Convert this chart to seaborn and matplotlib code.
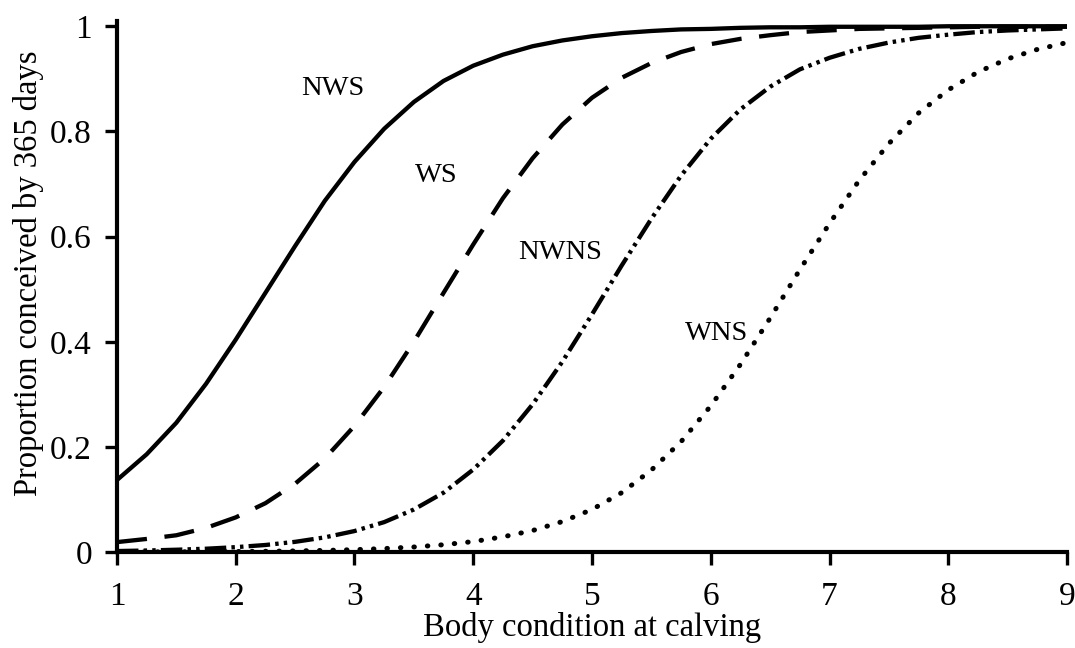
import numpy as np
import pandas as pd
import matplotlib
matplotlib.use("Agg")
import matplotlib.pyplot as plt
import seaborn as sns

# --- Data ---
body_condition = [1.0, 1.25, 1.5, 1.75, 2.0, 2.25, 2.5, 2.75, 3.0, 3.25, 3.5,
                  3.75, 4.0, 4.25, 4.5, 4.75, 5.0, 5.25, 5.5, 5.75, 6.0, 6.25,
                  6.5, 6.75, 7.0, 7.25, 7.5, 7.75, 8.0, 8.25, 8.5, 8.75, 9.0]

nws = [0.137, 0.186, 0.246, 0.320, 0.404, 0.493, 0.582, 0.668, 0.742, 0.805, 0.856,
       0.896, 0.925, 0.946, 0.962, 0.973, 0.981, 0.987, 0.991, 0.994, 0.995, 0.997,
       0.998, 0.998, 0.999, 0.999, 0.999, 0.999, 1.0, 1.0, 1.0, 1.0, 1.0]

ws = [0.019, 0.025, 0.032, 0.046, 0.066, 0.093, 0.130, 0.178, 0.240, 0.314, 0.400,
      0.493, 0.585, 0.673, 0.749, 0.813, 0.864, 0.902, 0.930, 0.951, 0.966, 0.976,
      0.983, 0.989, 0.992, 0.995, 0.996, 0.997, 0.998, 0.999, 0.999, 0.999, 0.999]

nwns = [0.002, 0.003, 0.0045, 0.0064, 0.0094, 0.0135, 0.0195, 0.028, 0.040, 0.057, 0.081,
        0.113, 0.157, 0.212, 0.281, 0.362, 0.452, 0.545, 0.634, 0.716, 0.786, 0.842,
        0.885, 0.918, 0.940, 0.957, 0.969, 0.978, 0.984, 0.989, 0.992, 0.994, 0.996]

wns = [0.0002, 0.0004, 0.0005, 0.0007, 0.0011, 0.0015, 0.0022, 0.0032, 0.0046, 0.0067, 0.0097,
       0.014, 0.020, 0.029, 0.041, 0.058, 0.081, 0.113, 0.156, 0.210, 0.278, 0.357,
       0.445, 0.537, 0.625, 0.707, 0.777, 0.835, 0.879, 0.913, 0.938, 0.956, 0.969]

groups = ["NWS", "WS", "NWNS", "WNS"]
label_x = [2.82, 3.69, 4.73, 6.05]
label_y = [0.882, 0.717, 0.570, 0.415]
y_ticks = [0, 0.2, 0.4, 0.6, 0.8, 1]
y_tick_labels = ["0", "0.2", "0.4", "0.6", "0.8", "1"]
x_ticks = [1, 2, 3, 4, 5, 6, 7, 8, 9]

# long-form table
df = pd.concat([
    pd.DataFrame({"condition": body_condition, "proportion": vals, "group": g})
    for g, vals in zip(groups, [nws, ws, nwns, wns])
], ignore_index=True)

# --- Styling ---
sns.set_style("ticks")
plt.rcParams["font.family"] = ["Liberation Serif", "DejaVu Serif"]
plt.rcParams["text.color"] = "black"
plt.rcParams["xtick.color"] = "black"
plt.rcParams["ytick.color"] = "black"
plt.rcParams["axes.labelcolor"] = "black"

line_styles = {
    "NWS": dict(linestyle="-", linewidth=3.1),
    "WS": dict(linestyle=(0, (7, 4.1)), dash_capstyle="butt", linewidth=3.1),
    "NWNS": dict(linestyle=(0, (5, 1.2, 0.8, 1.2, 0.8, 1.2)), dash_capstyle="butt", linewidth=3.1),
    "WNS": dict(linestyle=(0, (0.1, 2.6)), dash_capstyle="round", linewidth=3.6),
}

fig = plt.figure(figsize=(10.75, 6.48), dpi=100)
ax = fig.add_axes([0.1088, 0.148, 0.8838, 0.8196])

for g in groups:
    sns.lineplot(data=df[df["group"] == g], x="condition", y="proportion",
                 color="black", ax=ax, **line_styles[g])

for g, lx, ly in zip(groups, label_x, label_y):
    ax.text(lx, ly, g, ha="center", va="center", fontsize=20.5, color="black")

ax.set_xlim(1, 9)
ax.set_ylim(0, 1.01)
ax.set_xticks(x_ticks)
ax.set_xticklabels([str(t) for t in x_ticks])
ax.set_yticks(y_ticks)
ax.set_yticklabels(y_tick_labels)

ax.set_xlabel("Body condition at calving", fontsize=23.5, labelpad=0)
ax.set_ylabel("Proportion conceived by 365 days", fontsize=23.5)
ax.yaxis.set_label_coords(-0.077, 0.525)
ax.tick_params(axis="both", labelsize=24, length=9, width=2.4, color="black")
ax.tick_params(axis="x", pad=12)
ax.tick_params(axis="y", pad=9)

sns.despine(ax=ax)
for side in ["left", "bottom"]:
    ax.spines[side].set_linewidth(3.0)
    ax.spines[side].set_color("black")

fig.savefig("out.png", dpi=100, facecolor="white")
